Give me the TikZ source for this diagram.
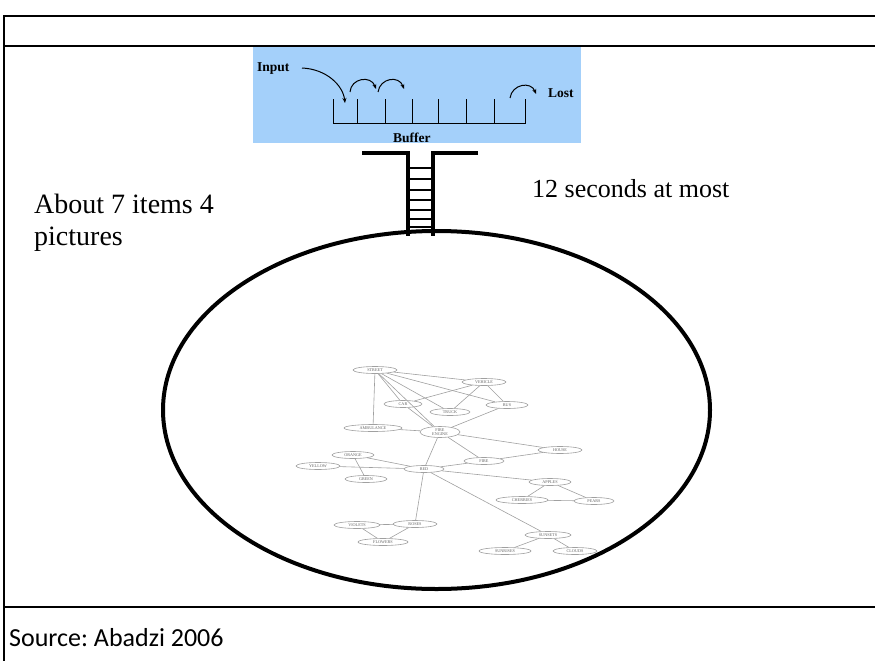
\documentclass[tikz,border=0pt]{standalone}
\usepackage{fontspec}
\setmainfont{Liberation Serif}
\newfontfamily\srcfont{Carlito}
\usetikzlibrary{shapes.geometric,arrows.meta}
\definecolor{bufblue}{RGB}{164,208,250}
\definecolor{gline}{RGB}{160,160,160}
\definecolor{gtext}{RGB}{100,100,100}
\frenchspacing
\begin{document}
\begin{tikzpicture}[x=1pt,y=-1pt,
  tline/.style={line width=1.8pt,black},
  txt/.style={inner sep=0pt,anchor=base west},
  bold/.style={inner sep=0pt,anchor=base west,font=\fontsize{13.5}{15}\selectfont\bfseries},
  arr/.style={line width=1pt,-{Stealth[length=5pt,width=4pt]}},
  rail/.style={line width=4.5pt},
  rung/.style={line width=2.5pt},
  gnode/.style={draw=gline,ellipse,line width=0.6pt,inner sep=0pt,minimum height=7pt,
     font=\fontsize{4.2}{4.4}\selectfont,text=gtext,fill=white},
  gedge/.style={draw=gline,line width=0.6pt}]
\useasboundingbox (0,0) rectangle (875,661);
% table
\draw[tline] (875,16) -- (4,16) -- (4,661);
\draw[tline] (4,46) -- (875,46);
\draw[tline] (4,607) -- (875,607);
% buffer box
\fill[bufblue] (253,47) rectangle (581,143);
\node[bold] (input) at (257,71) {Input};
\node[bold] (lost) at (548,97) {Lost};
\node[bold] (buffer) at (393,142) {Buffer};
\draw[line width=1pt] (333,99) -- (333,123) -- (525,123) -- (525,99);
\foreach \x in {357,385,412,438,466,494} \draw[line width=1pt] (\x,99) -- (\x,123);
\coordinate (inS) at (302,68); \coordinate (inE) at (345,103);
\draw[arr] (inS) .. controls (326,69) and (343,85) .. (inE);
\coordinate (a1s) at (350,92); \coordinate (a1e) at (376,89);
\draw[arr] (a1s) .. controls (351,78) and (371,75) .. (a1e);
\coordinate (a2s) at (378,92); \coordinate (a2e) at (404,89);
\draw[arr] (a2s) .. controls (380,78) and (399,75) .. (a2e);
\coordinate (a3s) at (510,98); \coordinate (a3e) at (536,94);
\draw[arr] (a3s) .. controls (512,84) and (531,81) .. (a3e);
% big ellipse
\draw[line width=4pt] (436.5,410) ellipse [x radius=273.5pt, y radius=179pt];
\fill[white] (621,547) rectangle (631,557);
% ladder
\draw[rail] (362,153) -- (408,153) -- (408,236);
\draw[rail] (478,153) -- (433,153) -- (433,236);
\foreach \y in {168,179,190,200,210,219,227} \draw[rung] (408,\y) -- (433,\y);
% texts
\node[txt,font=\fontsize{28}{32}\selectfont] (about1) at (34,213) {About 7 items 4};
\node[txt,font=\fontsize{28}{32}\selectfont] (about2) at (34,245) {pictures};
\node[txt,font=\fontsize{26}{30}\selectfont] (secs) at (532,197) {12 seconds at most};
\node[txt,font=\srcfont\fontsize{26}{30}\selectfont] (src) at (9,646) {Source: Abadzi 2006};
% semantic network
\node[gnode,minimum width=44pt] (street) at (375,370) {STREET};
\node[gnode,minimum width=44pt] (vehicle) at (484,382) {VEHICLE};
\node[gnode,minimum width=38pt] (car) at (403,404) {CAR};
\node[gnode,minimum width=40pt] (truck) at (450,412) {TRUCK};
\node[gnode,minimum width=42pt] (bus) at (507,405) {BUS};
\node[gnode,minimum width=58pt] (amb) at (373,428) {AMBULANCE};
\node[gnode,minimum width=40pt,align=center,minimum height=11pt] (fe) at (440,432) {FIRE\\ENGINE};
\node[gnode,minimum width=44pt] (house) at (560,450) {HOUSE};
\node[gnode,minimum width=40pt] (fire) at (484,461) {FIRE};
\node[gnode,minimum width=42pt] (orange) at (353,455) {ORANGE};
\node[gnode,minimum width=44pt] (yellow) at (318,466) {YELLOW};
\node[gnode,minimum width=42pt] (green) at (366,479) {GREEN};
\node[gnode,minimum width=40pt] (red) at (424,469) {RED};
\node[gnode,minimum width=42pt] (apples) at (550,482) {APPLES};
\node[gnode,minimum width=52pt] (cherries) at (522,500) {CHERRIES};
\node[gnode,minimum width=40pt] (pears) at (594,501) {PEARS};
\node[gnode,minimum width=46pt] (violets) at (357,525) {VIOLETS};
\node[gnode,minimum width=44pt] (roses) at (415,524) {ROSES};
\node[gnode,minimum width=50pt] (flowers) at (383,542) {FLOWERS};
\node[gnode,minimum width=46pt] (sunsets) at (548,535) {SUNSETS};
\node[gnode,minimum width=52pt] (sunrises) at (505,551) {SUNRISES};
\node[gnode,minimum width=44pt] (clouds) at (575,551) {CLOUDS};
\foreach \a/\b in {street/vehicle,street/car,street/truck,street/bus,street/amb,street/fe,
  vehicle/car,vehicle/truck,vehicle/bus,bus/fe,amb/fe,car/fe,fe/house,fe/fire,fe/red,
  fire/house,fire/red,orange/red,orange/green,yellow/red,red/apples,red/sunsets,red/roses,
  apples/cherries,apples/pears,cherries/pears,violets/roses,violets/flowers,roses/flowers,
  sunsets/sunrises,sunsets/clouds}
  \draw[gedge] (\a) -- (\b);
\end{tikzpicture}
\end{document}
